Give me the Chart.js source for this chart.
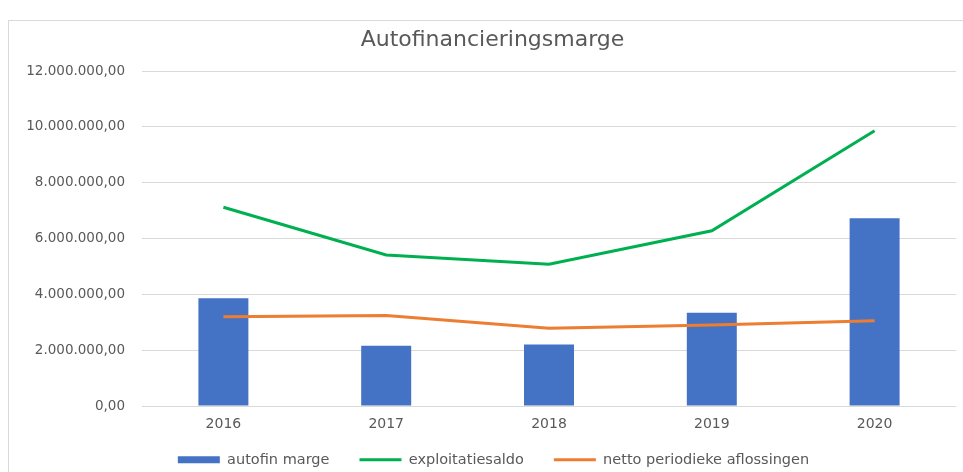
<!DOCTYPE html>
<html>
<head>
<meta charset="utf-8">
<script src="https://cdn.jsdelivr.net/npm/chart.js@4.4.0/dist/chart.umd.min.js"></script>
<style>
  html, body { margin: 0; padding: 0; background: #fff; overflow: hidden; }
  #wrap { position: relative; width: 963px; height: 487px; }
</style>
</head>
<body>
<div id="wrap"><canvas id="chart1"></canvas></div>
<script>
// data
const years = ['2016', '2017', '2018', '2019', '2020'];
const autofinMarge = [3860000, 2160000, 2210000, 3340000, 6730000];
const exploitatiesaldo = [7120000, 5410000, 5080000, 6280000, 9860000];
const nettoAflossingen = [3200000, 3240000, 2790000, 2900000, 3060000];
const yTicks = [0, 2000000, 4000000, 6000000, 8000000, 10000000, 12000000];

const textColor = '#595959';
const fontName = '"DejaVu Sans", sans-serif';

// getal in nl-notatie: 12.000.000,00
function formatNl(v) {
  var parts = Number(v).toFixed(2).split('.');
  var ints = parts[0].replace(/\B(?=(\d{3})+(?!\d))/g, '.');
  return ints + ',' + parts[1];
}

// lichte rand rond de grafiek
const borderPlugin = {
  id: 'outerBorder',
  beforeDraw(chart) {
    var c = chart.ctx;
    c.save();
    c.strokeStyle = '#d9d9d9';
    c.lineWidth = 1;
    c.strokeRect(8.5, 20.5, 1200, 600);
    c.restore();
  },
};

// titel en legenda iets naar rechts (en legenda iets omhoog), zoals in Excel
const shiftPlugin = {
  id: 'shiftBoxes',
  afterLayout(chart) {
    if (chart.titleBlock) chart.titleBlock.left += 29;
    if (chart.legend) {
      chart.legend.left += 31;
      chart.legend.top -= 10;
      chart.legend.bottom -= 10;
    }
  },
};

var ctx = document.getElementById('chart1').getContext('2d');
new Chart(ctx, {
  type: 'bar',
  data: {
    labels: years,
    datasets: [
      {
        label: 'autofin marge',
        data: autofinMarge,
        backgroundColor: '#4472c4',
        borderWidth: 0,
        categoryPercentage: 0.307,
        barPercentage: 1,
        pointStyle: 'rect',
        order: 2,
      },
      {
        type: 'line',
        label: 'exploitatiesaldo',
        data: exploitatiesaldo,
        borderColor: '#00b050',
        backgroundColor: '#00b050',
        borderWidth: 3,
        pointRadius: 0,
        pointStyle: 'line',
        tension: 0,
        fill: false,
        order: 1,
      },
      {
        type: 'line',
        label: 'netto periodieke aflossingen',
        data: nettoAflossingen,
        borderColor: '#ed7d31',
        backgroundColor: '#ed7d31',
        borderWidth: 3,
        pointRadius: 0,
        pointStyle: 'line',
        tension: 0,
        fill: false,
        order: 1,
      },
    ],
  },
  plugins: [borderPlugin, shiftPlugin],
  options: {
    responsive: true,
    maintainAspectRatio: false,
    animation: false,
    layout: { padding: { top: 20, right: 7, bottom: 0, left: 0 } },
    plugins: {
      title: {
        display: true,
        text: 'Autofinancieringsmarge',
        color: textColor,
        font: { family: fontName, size: 22, weight: 'normal' },
        padding: { top: 7, bottom: 17.6 },
      },
      legend: {
        position: 'bottom',
        labels: {
          usePointStyle: true,
          pointStyleWidth: 42,
          boxHeight: 7,
          padding: 30,
          color: textColor,
          font: { family: fontName, size: 14.5 },
          sort: (a, b) => a.datasetIndex - b.datasetIndex,
        },
      },
      tooltip: { enabled: false },
    },
    scales: {
      x: {
        afterFit(scale) { scale.height = 26.4; },
        grid: { display: false, drawTicks: false },
        border: { display: false },
        ticks: { color: textColor, padding: 9.6, font: { family: fontName, size: 14 } },
      },
      y: {
        min: 0,
        max: 12000000,
        afterFit(scale) { scale.width = 142; },
        afterBuildTicks(scale) { scale.ticks = yTicks.map(v => ({ value: v })); },
        grid: { color: '#d9d9d9', drawTicks: false },
        border: { display: false },
        ticks: {
          color: textColor,
          padding: 17,
          font: { family: fontName, size: 13.5 },
          callback: v => formatNl(v),
        },
      },
    },
  },
});
</script>
</body>
</html>
